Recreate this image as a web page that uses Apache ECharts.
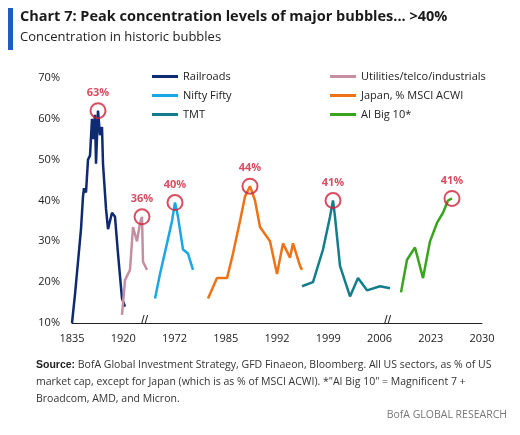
<!DOCTYPE html>
<html><head><meta charset="utf-8">
<script src="https://cdn.jsdelivr.net/npm/echarts@6/dist/echarts.min.js"></script>
<style>body{margin:0;background:#fff}#c{width:520px;height:435px}</style>
</head><body><div id="c"></div>
<script>
// x values are positions on a broken axis: 0 = 1835, each 51.25 units = next tick label
const tickLabels = ['1835','1920','1972','1985','1992','1999','2006','2023','2030'];
const yTicks = [10,20,30,40,50,60,70];
const railroads = [[0,10],[3,17],[6,25],[9,33],[11,41],[12,43],[14,42],[16,50],[18,51],[20,60],[21,55],[23,61],[24,49],[26,62],[28,56],[30,58],[31,49],[34,38],[36,33],[38,33],[40,37],[43,36],[46,27],[50,16],[53,14]];
const utilities = [[50,12],[53,20.5],[58,23],[61,33.5],[65,30],[68,34.5],[70,36],[71,25],[75,23]];
const nifty = [[83,16],[88,22],[95,29.5],[100,35],[103,39.5],[106,36],[111,28],[116,27],[121,23]];
const japan = [[136,16],[145,21],[155,21],[161,27],[168,35],[173,41],[178,43.5],[183,40],[188,33.5],[198,30],[205,22],[211,29.5],[218,26],[221,29.5],[228,24],[230,23]];
const tmt = [[230,19],[241,20],[251,28],[258,36],[261,40],[263,36],[268,24],[278,16.5],[286,21],[295,18],[308,19],[318,18.5]];
const aiBig10 = [[329,17.5],[335,25.5],[343,28.5],[351,21],[358,30],[365,34.5],[371,37],[376,40],[380,40.5]];
const peaks = [[26,62,'63%'],[70,36,'36%'],[103,39.5,'40%'],[178,43.5,'44%'],[261,40,'41%'],[380,40.5,'41%']];
const names = ['Railroads','Utilities/telco/industrials','Nifty Fifty','Japan, % MSCI ACWI','TMT','AI Big 10*'];
const colors = ['#0d2a73','#c48fa3','#1ba7e6','#ee7318','#137d8c','#3aa41f'];
const datas = [railroads,utilities,nifty,japan,tmt,aiBig10];

const series = datas.map((d,i)=>({name:names[i],type:'line',data:d,showSymbol:false,
  lineStyle:{width:2.5,color:colors[i]},itemStyle:{color:colors[i]}}));
series.push({type:'scatter',data:peaks.map(p=>({value:[p[0],p[1]],label:{formatter:p[2]}})),
  symbol:'circle',symbolSize:15,itemStyle:{color:'transparent',borderColor:'#d0203a',borderWidth:2},
  label:{show:true,position:'top',distance:4,color:'#d0203a',fontWeight:'bold',fontSize:11},z:10});

const c = echarts.init(document.getElementById('c'));
c.setOption({
  animation:false,
  textStyle:{fontFamily:'Open Sans'},
  grid:{left:72,right:38,top:78,bottom:112},
  legend:[
    {data:names.filter((_,i)=>i%2==0),left:147,top:66,orient:'vertical',itemGap:8,itemWidth:26,itemHeight:3,icon:'rect',textStyle:{fontSize:11,color:'#222'}},
    {data:names.filter((_,i)=>i%2==1),left:325,top:66,orient:'vertical',itemGap:8,itemWidth:26,itemHeight:3,icon:'rect',textStyle:{fontSize:11,color:'#222'}}
  ],
  xAxis:{type:'value',min:0,max:410,interval:51.25,splitLine:{show:false},axisTick:{show:false},
    axisLine:{lineStyle:{color:'#222'}},
    axisLabel:{color:'#222',fontSize:11,margin:10,showMaxLabel:true,formatter:v=>tickLabels[Math.round(v/51.25)]}},
  yAxis:{type:'value',min:10,max:70,interval:10,splitLine:{show:false},axisLine:{show:false},axisTick:{show:false},
    axisLabel:{color:'#222',fontSize:11,margin:12,formatter:v=>v+'%'}},
  series:series,
  graphic:[
    {type:'rect',shape:{x:8,y:8,width:5,height:42},style:{fill:'#1f5bc6'}},
    {type:'text',left:20,top:9,style:{text:'Chart 7: Peak concentration levels of major bubbles... >40%',fontSize:14.5,fontWeight:'bold',fill:'#1a1a1a',fontFamily:'Open Sans'}},
    {type:'text',left:20,top:31,style:{text:'Concentration in historic bubbles',fontSize:13,fill:'#222',fontFamily:'Open Sans'}},
    {type:'text',left:141,top:314,style:{text:'//',fontSize:13,fill:'#222',backgroundColor:'#fff'}},
    {type:'text',left:384,top:314,style:{text:'//',fontSize:13,fill:'#222',backgroundColor:'#fff'}},
    {type:'text',left:36,top:357,style:{rich:{b:{fontWeight:'bold',fontSize:10.5,fill:'#222'}},
      text:'{b|Source:} BofA Global Investment Strategy, GFD Finaeon, Bloomberg. All US sectors, as % of US\nmarket cap, except for Japan (which is as % of MSCI ACWI). *"AI Big 10" = Magnificent 7 +\nBroadcom, AMD, and Micron.',
      fontSize:10.5,lineHeight:17,fill:'#333',fontFamily:'Open Sans'}},
    {type:'text',right:13,top:410,style:{text:'BofA GLOBAL RESEARCH',fontSize:10.5,fill:'#777',fontFamily:'Open Sans'}}
  ]
});
</script></body></html>
